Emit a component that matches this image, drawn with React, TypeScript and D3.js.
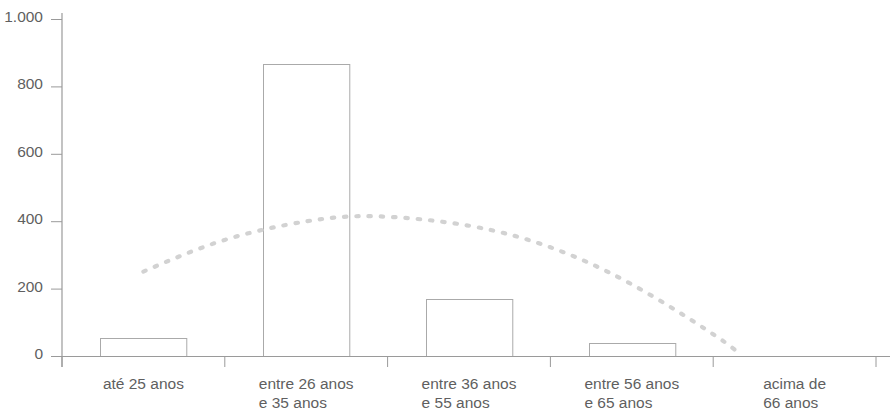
import React, { useEffect, useRef } from "react";
import * as d3 from "d3";

const categories: string[][] = [
  ["até 25 anos"],
  ["entre 26 anos", "e 35 anos"],
  ["entre 36 anos", "e 55 anos"],
  ["entre 56 anos", "e 65 anos"],
  ["acima de", "66 anos"],
];
const values: number[] = [55, 868, 171, 39, 0];
const yTicks: number[] = [0, 200, 400, 600, 800, 1000];
// trendline: [category position (0 = first band centre), value]
const trendPos: number[] = [0, 0.5, 1, 1.43, 2, 2.5, 3, 3.5, 3.66];
const trendVal: number[] = [252, 346, 401, 416, 388, 324, 214, 66, 8];

const W = 890;
const H = 417;

export default function App() {
  const ref = useRef<SVGSVGElement | null>(null);

  useEffect(() => {
    const svg = d3.select(ref.current);
    svg.selectAll("*").remove();
    const font = "'Liberation Sans', Arial, Helvetica, sans-serif";

    const x = d3
      .scaleBand<number>()
      .domain(d3.range(categories.length))
      .range([62, 876])
      .paddingInner(0.47)
      .paddingOuter(0.235);
    const step = x.step();
    const y = d3.scaleLinear().domain([0, 1000]).range([356.5, 19.5]);
    const axisColor = "#9a9a9a";
    const textColor = "#5f5f5f";

    // bars
    svg
      .append("g")
      .selectAll("rect")
      .data(values)
      .join("rect")
      .attr("x", (_, i) => Math.round(x(i)!) + 0.5)
      .attr("y", (d) => Math.round(y(d)) + 0.5)
      .attr("width", x.bandwidth())
      .attr("height", (d) => y(0) - Math.round(y(d)) - 0.5)
      .attr("fill", "#fff")
      .attr("stroke", "#aaa")
      .attr("stroke-width", 1);

    // y axis
    const gy = svg.append("g");
    gy.append("line")
      .attr("x1", 62).attr("x2", 62)
      .attr("y1", 13).attr("y2", 367)
      .attr("stroke", axisColor).attr("stroke-width", 1.2);
    gy.selectAll("line.tick")
      .data(yTicks)
      .join("line")
      .attr("class", "tick")
      .attr("x1", 51).attr("x2", 62)
      .attr("y1", (d) => y(d)).attr("y2", (d) => y(d))
      .attr("stroke", axisColor).attr("stroke-width", 1);
    gy.selectAll("text")
      .data(yTicks)
      .join("text")
      .attr("x", 43)
      .attr("y", (d) => y(d) + 2.5)
      .attr("text-anchor", "end")
      .attr("font-family", font)
      .attr("font-size", 15.5)
      .attr("fill", textColor)
      .text((d) => d3.format(",")(d).replace(/,/g, "."));

    // x axis
    const gx = svg.append("g");
    gx.append("line")
      .attr("x1", 51).attr("x2", 890)
      .attr("y1", y(0)).attr("y2", y(0))
      .attr("stroke", axisColor).attr("stroke-width", 1.2);
    gx.selectAll("line.tick")
      .data(d3.range(categories.length + 1))
      .join("line")
      .attr("class", "tick")
      .attr("x1", (i) => 62 + i * step).attr("x2", (i) => 62 + i * step)
      .attr("y1", y(0)).attr("y2", 367)
      .attr("stroke", axisColor).attr("stroke-width", 1);

    categories.forEach((lines, i) => {
      const cx = x(i)! + x.bandwidth() / 2;
      const t = gx
        .append("text")
        .attr("font-family", font)
        .attr("font-size", 15.5)
        .attr("fill", textColor);
      lines.forEach((ln, j) => {
        t.append("tspan").attr("y", 389 + j * 19).text(ln);
      });
      let maxW = 0;
      t.selectAll<SVGTSpanElement, unknown>("tspan").each(function () {
        maxW = Math.max(maxW, this.getComputedTextLength());
      });
      t.selectAll("tspan").attr("x", cx - maxW / 2);
    });

    // trendline
    const pts: [number, number][] = trendPos.map((p, i) => [
      x(0)! + x.bandwidth() / 2 + p * step,
      y(trendVal[i]),
    ]);
    const line = d3.line().curve(d3.curveNatural);
    svg
      .append("path")
      .attr("d", line(pts))
      .attr("fill", "none")
      .attr("stroke", "#d2d2d2")
      .attr("stroke-width", 4.2)
      .attr("stroke-linecap", "round")
      .attr("stroke-dasharray", "2.4 9.9");
  }, []);

  return (
    <div style={{ position: "absolute", left: 0, top: 0 }}>
      <svg ref={ref} width={W} height={H} style={{ display: "block" }} />
    </div>
  );
}
